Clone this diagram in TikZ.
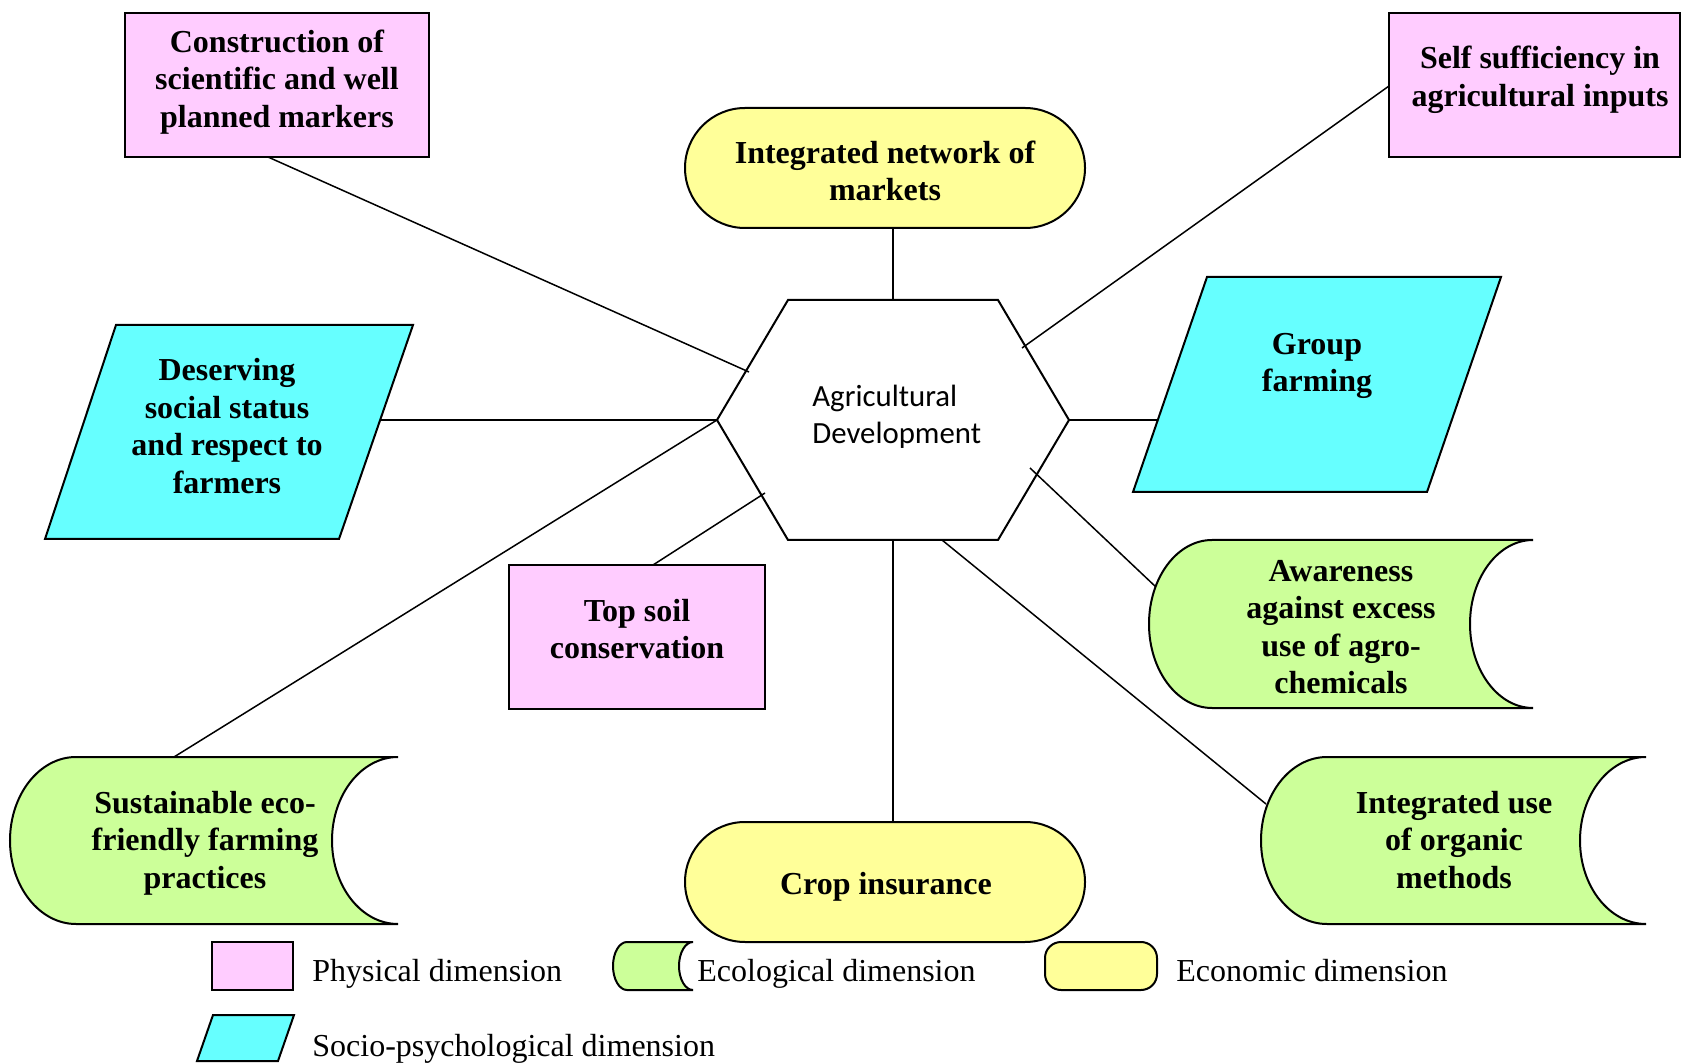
\documentclass[tikz,border=0pt]{standalone}
\usepackage{fontspec}
\setmainfont{Liberation Serif}
\newfontfamily\hexfont{Carlito}
\usetikzlibrary{calc}
\definecolor{physfill}{RGB}{255,204,255}
\definecolor{sociofill}{RGB}{102,255,255}
\definecolor{ecofill}{RGB}{204,255,153}
\definecolor{econfill}{RGB}{255,255,153}

% stored-data outline: #1 style, x1, y1, x2, y2, bulge depth
\newcommand\ecoshape[6]{%
  \pgfmathsetmacro\ym{(#3+#5)/2}%
  \pgfmathsetmacro\hh{(#5-#3)/2}%
  \pgfmathsetmacro\ka{0.5523*#6}%
  \pgfmathsetmacro\kh{0.5523*\hh}%
  \draw[#1] (#4,#3) -- ({#2+#6},#3)
    .. controls ({#2+#6-\ka},#3) and (#2,{\ym-\kh}) .. (#2,\ym)
    .. controls (#2,{\ym+\kh}) and ({#2+#6-\ka},#5) .. ({#2+#6},#5)
    -- (#4,#5)
    .. controls ({#4-\ka},#5) and ({#4-#6},{\ym+\kh}) .. ({#4-#6},\ym)
    .. controls ({#4-#6},{\ym-\kh}) and ({#4-\ka},#3) .. (#4,#3) -- cycle;
}

\begin{document}
\begin{tikzpicture}[x=0.5pt,y=-0.5pt,
  outline/.style={draw=black,line width=1pt,line join=miter},
  physbox/.style={outline,fill=physfill},
  sociobox/.style={outline,fill=sociofill},
  ecobox/.style={outline,fill=ecofill},
  econbox/.style={outline,fill=econfill,rounded corners=30pt},
  econleg/.style={outline,fill=econfill,rounded corners=8pt},
  label/.style={font=\bfseries\fontsize{16}{18.75}\selectfont,align=center,inner sep=0pt},
  legtext/.style={font=\fontsize{16}{19}\selectfont,anchor=base west,inner sep=0pt},
  link/.style={line width=0.75pt}]
\useasboundingbox (0,0) rectangle (1681,1063);

% central hexagon
\coordinate (hTL) at (788,300);
\coordinate (hTR) at (998,300);
\coordinate (hR)  at (1069,420);
\coordinate (hBR) at (998,540);
\coordinate (hBL) at (788,540);
\coordinate (hL)  at (717,420);
\coordinate (hT)  at (893,300);
\coordinate (hB)  at (893,540);
\draw[outline] (hTL) -- (hTR) -- (hR) -- (hBR) -- (hBL) -- (hL) -- cycle;
\node[font=\hexfont\fontsize{15.4}{18.5}\selectfont,align=left,anchor=west,inner sep=0pt]
  (hub) at (812,417) {Agricultural\\Development};

% connector ends on the hexagon
\coordinate (e1) at (749,372);
\coordinate (e2) at (1022,348);
\coordinate (e7) at (765,493);
\coordinate (e8) at (1030,468);
\coordinate (e10) at (942,540);

% connector ends on the outer shapes
\coordinate (s1) at (268,157);
\coordinate (s2) at (1389,86);
\coordinate (s3) at (893,228);
\coordinate (s4) at (381,420);
\coordinate (s5) at (1159,420);
\coordinate (s6) at (174,757);
\coordinate (s7) at (653,565);
\coordinate (s8) at (1157,588);
\coordinate (s9) at (893,822);
\coordinate (s10) at (1266,804);

\draw[link] (s1) -- (e1);
\draw[link] (s2) -- (e2);
\draw[link] (s3) -- (hT);
\draw[link] (s4) -- (hL);
\draw[link] (hR) -- (s5);
\draw[link] (s6) -- (hL);
\draw[link] (s7) -- (e7);
\draw[link] (s8) -- (e8);
\draw[link] (hB) -- (s9);
\draw[link] (s10) -- (e10);

% physical dimension
\draw[physbox] (125,13) rectangle (429,157);
\node[label] (construct) at (277,82) {Construction of\\scientific and well\\planned markers};
\draw[physbox] (1389,13) rectangle (1680,157);
\node[label] (selfsuff) at (1540,80) {Self sufficiency in\\agricultural inputs};
\draw[physbox] (509,565) rectangle (765,709);
\node[label] (topsoil) at (637,629) {Top soil\\conservation};

% economic dimension
\draw[econbox] (685,108) rectangle (1085,228);
\node[label] (network) at (885,171) {Integrated network of\\markets};
\draw[econbox] (685,822) rectangle (1085,942);
\node[label] (crop) at (886,887) {Crop insurance};

% socio-psychological dimension
\draw[sociobox] (1207,277) -- (1501,277) -- (1427,492) -- (1133,492) -- cycle;
\node[label] (group) at (1317,366) {Group\\farming};
\draw[sociobox] (116,325) -- (413,325) -- (339,539) -- (45,539) -- cycle;
\node[label] (status) at (227,426) {Deserving\\social status\\and respect to\\farmers};

% ecological dimension
\ecoshape{ecobox}{1149}{540}{1533}{708}{63}
\node[label] (aware) at (1341,627) {Awareness\\against excess\\use of agro-\\chemicals};
\ecoshape{ecobox}{10}{757}{398}{924}{66}
\node[label] (sustain) at (205,843) {Sustainable eco-\\friendly farming\\practices};
\ecoshape{ecobox}{1261}{757}{1646}{924}{66}
\node[label] (organic) at (1454,840) {Integrated use\\of organic\\methods};

% legend
\draw[physbox] (212,942) rectangle (293,990);
\node[legtext] (legphys) at (312,981) {Physical dimension};
\ecoshape{ecobox}{613}{942}{693}{990}{14}
\node[legtext] (legeco) at (697,981) {Ecological dimension};
\draw[econleg] (1045,942) rectangle (1157,990);
\node[legtext] (legecon) at (1176,981) {Economic dimension};
\draw[sociobox] (213,1015) -- (294,1015) -- (278,1061) -- (197,1061) -- cycle;
\node[legtext] (legsocio) at (312,1056) {Socio-psychological dimension};
\end{tikzpicture}
\end{document}
